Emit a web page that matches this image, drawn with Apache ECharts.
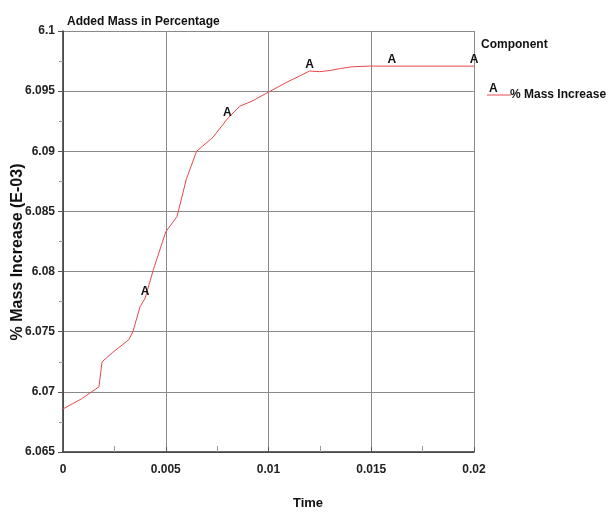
<!DOCTYPE html>
<html>
<head>
<meta charset="utf-8">
<script src="https://cdn.jsdelivr.net/npm/echarts@6/dist/echarts.min.js"></script>
<style>
html,body{margin:0;padding:0;background:#fff;}
#chart{width:616px;height:514px;}
</style>
</head>
<body>
<div id="chart"></div>
<script>
// Added mass history (values in units of E-03 %)
const time = [0, 0.0009, 0.00175, 0.0019, 0.0024, 0.0032, 0.0034, 0.00375, 0.004, 0.0044, 0.005, 0.00555, 0.006, 0.0065, 0.0073, 0.008, 0.0086, 0.0092, 0.01, 0.0109, 0.0115, 0.012, 0.0125, 0.013, 0.0135, 0.0141, 0.0149, 0.016, 0.02];
const massIncrease = [6.06858, 6.06942, 6.07042, 6.0725, 6.07325, 6.07433, 6.075, 6.07708, 6.0778, 6.08017, 6.0833, 6.08458, 6.08767, 6.09, 6.09117, 6.0927, 6.09375, 6.09417, 6.09492, 6.09575, 6.09625, 6.09667, 6.09662, 6.09672, 6.09688, 6.09703, 6.09708, 6.09708, 6.09708];
// Times at which the curve letter "A" is drawn
const letterTimes = [0.004, 0.008, 0.012, 0.016, 0.02];
const xTicks = [0, 0.005, 0.01, 0.015, 0.02];
const yTicks = [6.065, 6.07, 6.075, 6.08, 6.085, 6.09, 6.095, 6.1];

const FONT = '"Liberation Sans Narrow", "Arial Narrow", "Liberation Sans", sans-serif';
const lineColor = '#e8484c';

const seriesData = time.map((t, i) => {
  const item = { value: [t, massIncrease[i]] };
  if (letterTimes.indexOf(t) >= 0) {
    item.label = {
      show: true, formatter: 'A', position: 'inside', offset: [0, -6],
      color: '#111', fontFamily: FONT, fontWeight: 'bold', fontSize: 12
    };
  }
  return item;
});

const chart = echarts.init(document.getElementById('chart'));
chart.setOption({
  backgroundColor: '#fff',
  animation: false,
  title: {
    text: 'Added Mass in Percentage', left: 62, top: 11,
    textStyle: { fontFamily: FONT, fontWeight: 'bold', fontSize: 12, color: '#111' }
  },
  grid: { left: 63, right: 142, top: 31, bottom: 62, containLabel: false, outerBoundsMode: 'none' },
  xAxis: {
    type: 'value', min: xTicks[0], max: xTicks[xTicks.length - 1], interval: 0.005,
    axisLine: { show: true, lineStyle: { color: '#333', width: 1.5 } },
    axisTick: { show: true, inside: true, length: 5, lineStyle: { color: '#555' } },
    minorTick: { show: true, splitNumber: 2, length: 6, lineStyle: { color: '#999' } },
    axisLabel: {
      fontFamily: FONT, fontWeight: 'bold', fontSize: 12, color: '#222', margin: 12,
      formatter: v => String(parseFloat(v.toFixed(4)))
    },
    splitLine: { show: true, lineStyle: { color: '#8a8a8a', width: 1 } }
  },
  yAxis: {
    type: 'value', min: yTicks[0], max: yTicks[yTicks.length - 1], interval: 0.005,
    axisLine: { show: true, lineStyle: { color: '#333', width: 1.5 } },
    axisTick: { show: true, length: 5, lineStyle: { color: '#555' } },
    minorTick: { show: true, splitNumber: 2, length: 4, lineStyle: { color: '#999' } },
    axisLabel: {
      fontFamily: FONT, fontWeight: 'bold', fontSize: 12, color: '#222', margin: 8,
      formatter: v => String(parseFloat(v.toFixed(4)))
    },
    splitLine: { show: true, lineStyle: { color: '#8a8a8a', width: 1 } }
  },
  legend: {
    orient: 'vertical', left: 482, top: 84,
    itemWidth: 24, itemHeight: 13, itemGap: 4,
    icon: 'path://M0,12 L24,12 L24,13 L0,13 Z',
    textStyle: { fontFamily: FONT, fontWeight: 'bold', fontSize: 12, color: '#111', padding: [0, 0, 0, -6] },
    data: [{ name: '% Mass Increase', itemStyle: { color: lineColor } }]
  },
  graphic: [
    { type: 'text', left: 481, top: 39,
      style: { text: 'Component', font: 'bold 12px ' + FONT, fill: '#111' } },
    { type: 'text', left: 489, top: 83,
      style: { text: 'A', font: 'bold 12px ' + FONT, fill: '#111' } },
    // axis titles
    { type: 'text', x: 308, y: 503,
      style: { text: 'Time', font: 'bold 13px ' + FONT, fill: '#111', align: 'center', verticalAlign: 'middle' } },
    { type: 'text', x: 18, y: 252, rotation: Math.PI / 2,
      style: { text: '% Mass Increase (E-03)', font: 'bold 16px ' + FONT, fill: '#111', align: 'center', verticalAlign: 'middle' } }
  ],
  series: [{
    name: '% Mass Increase', type: 'line', data: seriesData,
    showSymbol: true, symbol: 'circle', symbolSize: 0,
    lineStyle: { color: lineColor, width: 1 },
    itemStyle: { color: lineColor },
    z: 3
  }]
});
</script>
</body>
</html>
